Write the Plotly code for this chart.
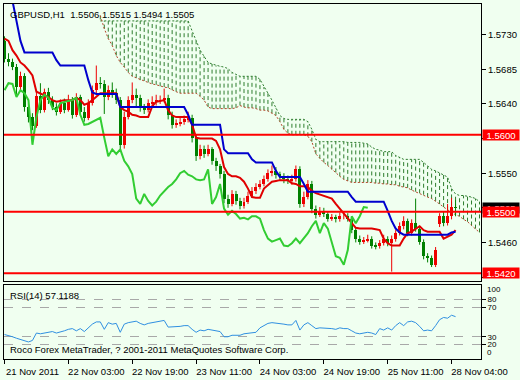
import plotly.graph_objects as go

# ---------------- data (GBPUSD H1, bars 0..113) ----------------
symbol = "GBPUSD,H1"
opens = [1.5722,1.5699,1.5694,1.5688,1.5662,1.5677,1.5636,1.5623,1.5612,1.5650,
         1.5632,1.5656,1.5645,1.5636,1.5630,1.5641,1.5632,1.5645,1.5626,1.5649,
         1.5630,1.5622,1.5641,1.5658,1.5667,1.5666,1.5649,1.5658,1.5654,1.5645,
         1.5587,1.5623,1.5645,1.5652,1.5648,1.5635,1.5632,1.5641,1.5643,1.5644,
         1.5645,1.5648,1.5626,1.5613,1.5614,1.5617,1.5620,1.5622,1.5596,1.5572,
         1.5581,1.5575,1.5581,1.5566,1.5559,1.5549,1.5517,1.5510,1.5523,1.5514,
         1.5508,1.5513,1.5521,1.5527,1.5532,1.5536,1.5542,1.5550,1.5553,1.5548,
         1.5546,1.5542,1.5541,1.5542,1.5555,1.5510,1.5519,1.5536,1.5504,1.5496,
         1.5501,1.5497,1.5491,1.5492,1.5490,1.5494,1.5494,1.5491,1.5476,1.5465,
         1.5461,1.5463,1.5465,1.5456,1.5455,1.5459,1.5465,1.5459,1.5465,1.5472,
         1.5481,1.5488,1.5472,1.5485,1.5478,1.5461,1.5442,1.5440,1.5431,1.5484,
         1.5494,1.5485,1.5494,1.5506]
highs = [1.5728,1.5706,1.5699,1.5692,1.5682,1.5680,1.5641,1.5628,1.5656,1.5667,
         1.5660,1.5661,1.5650,1.5641,1.5646,1.5647,1.5652,1.5649,1.5654,1.5652,
         1.5636,1.5646,1.5664,1.5690,1.5675,1.5671,1.5664,1.5668,1.5660,1.5649,
         1.5630,1.5650,1.5668,1.5660,1.5652,1.5640,1.5646,1.5650,1.5652,1.5651,
         1.5660,1.5652,1.5630,1.5620,1.5622,1.5625,1.5630,1.5626,1.5600,1.5587,
         1.5586,1.5587,1.5584,1.5570,1.5562,1.5553,1.5522,1.5528,1.5527,1.5518,
         1.5518,1.5526,1.5532,1.5537,1.5541,1.5547,1.5555,1.5560,1.5558,1.5552,
         1.5550,1.5547,1.5548,1.5560,1.5559,1.5526,1.5541,1.5540,1.5508,1.5506,
         1.5505,1.5500,1.5497,1.5496,1.5499,1.5499,1.5498,1.5494,1.5480,1.5469,
         1.5467,1.5470,1.5468,1.5460,1.5463,1.5470,1.5468,1.5469,1.5476,1.5486,
         1.5494,1.5491,1.5490,1.5517,1.5481,1.5464,1.5446,1.5443,1.5454,1.5498,
         1.5500,1.5510,1.5518,1.5515]
lows = [1.5694,1.5689,1.5684,1.5652,1.5658,1.5630,1.5616,1.5606,1.5609,1.5628,
        1.5629,1.5640,1.5632,1.5625,1.5627,1.5628,1.5630,1.5621,1.5623,1.5625,
        1.5617,1.5619,1.5638,1.5654,1.5660,1.5627,1.5645,1.5648,1.5640,1.5580,
        1.5582,1.5620,1.5641,1.5636,1.5630,1.5627,1.5629,1.5637,1.5638,1.5640,
        1.5642,1.5620,1.5608,1.5609,1.5611,1.5613,1.5616,1.5590,1.5566,1.5568,
        1.5570,1.5572,1.5561,1.5553,1.5543,1.5511,1.5505,1.5507,1.5509,1.5503,
        1.5504,1.5510,1.5518,1.5523,1.5529,1.5533,1.5539,1.5546,1.5543,1.5541,
        1.5537,1.5536,1.5535,1.5539,1.5505,1.5506,1.5516,1.5498,1.5491,1.5493,
        1.5493,1.5487,1.5488,1.5486,1.5487,1.5490,1.5487,1.5472,1.5460,1.5457,
        1.5458,1.5460,1.5452,1.5451,1.5452,1.5456,1.5455,1.5422,1.5461,1.5469,
        1.5477,1.5468,1.5469,1.5474,1.5457,1.5438,1.5434,1.5428,1.5428,1.5480,
        1.5481,1.5482,1.5490,1.5494]
closes = [1.5699,1.5694,1.5688,1.5662,1.5677,1.5636,1.5623,1.5612,1.5650,1.5632,
          1.5656,1.5645,1.5636,1.5630,1.5641,1.5632,1.5645,1.5626,1.5649,1.5630,
          1.5622,1.5641,1.5658,1.5667,1.5666,1.5649,1.5658,1.5654,1.5645,1.5587,
          1.5623,1.5645,1.5652,1.5648,1.5635,1.5632,1.5641,1.5643,1.5644,1.5645,
          1.5648,1.5626,1.5613,1.5614,1.5617,1.5620,1.5622,1.5596,1.5572,1.5581,
          1.5575,1.5581,1.5566,1.5559,1.5549,1.5517,1.5510,1.5523,1.5514,1.5508,
          1.5513,1.5521,1.5527,1.5532,1.5536,1.5542,1.5550,1.5553,1.5548,1.5546,
          1.5542,1.5541,1.5542,1.5555,1.5510,1.5519,1.5536,1.5504,1.5496,1.5501,
          1.5497,1.5491,1.5492,1.5490,1.5494,1.5494,1.5491,1.5476,1.5465,1.5461,
          1.5463,1.5465,1.5456,1.5455,1.5459,1.5465,1.5459,1.5465,1.5472,1.5481,
          1.5488,1.5472,1.5485,1.5478,1.5461,1.5442,1.5440,1.5431,1.5450,1.5494,
          1.5485,1.5494,1.5506,1.5505]

tenkan = [1.5725,1.5722,1.5710,1.5703,1.5694,1.5690,1.5684,1.5677,1.5656,1.5654,
          1.5652,1.5649,1.5645,1.5643,1.5644,1.5645,1.5645,1.5645,1.5648,1.5645,
          1.5639,1.5641,1.5645,1.5649,1.5654,1.5654,1.5654,1.5654,1.5654,1.5636,
          1.5632,1.5630,1.5626,1.5625,1.5623,1.5623,1.5623,1.5637,1.5643,1.5644,
          1.5645,1.5632,1.5625,1.5623,1.5623,1.5623,1.5623,1.5613,1.5596,1.5595,
          1.5595,1.5595,1.5595,1.5592,1.5581,1.5558,1.5549,1.5546,1.5546,1.5544,
          1.5539,1.5530,1.5519,1.5518,1.5518,1.5530,1.5535,1.5539,1.5540,1.5541,
          1.5541,1.5541,1.5537,1.5536,1.5533,1.5533,1.5532,1.5527,1.5524,1.5522,
          1.5521,1.5519,1.5517,1.5510,1.5504,1.5497,1.5491,1.5485,1.5479,1.5478,
          1.5478,1.5478,1.5478,1.5477,1.5476,1.5465,1.5459,1.5456,1.5456,1.5456,
          1.5465,1.5472,1.5474,1.5478,1.5481,1.5476,1.5474,1.5474,1.5474,1.5474,
          1.5465,1.5467,1.5470,1.5476]
kijun = [1.5787,1.5780,1.5774,1.5748,1.5722,1.5707,1.5707,1.5707,1.5707,1.5707,
         1.5707,1.5707,1.5707,1.5697,1.5690,1.5690,1.5690,1.5690,1.5690,1.5690,
         1.5690,1.5671,1.5655,1.5653,1.5653,1.5653,1.5653,1.5653,1.5653,1.5636,
         1.5636,1.5636,1.5636,1.5636,1.5636,1.5636,1.5636,1.5636,1.5636,1.5636,
         1.5636,1.5636,1.5636,1.5636,1.5636,1.5636,1.5626,1.5613,1.5613,1.5613,
         1.5613,1.5613,1.5613,1.5613,1.5613,1.5581,1.5576,1.5576,1.5576,1.5576,
         1.5576,1.5576,1.5568,1.5564,1.5564,1.5564,1.5564,1.5564,1.5553,1.5545,
         1.5545,1.5545,1.5545,1.5545,1.5545,1.5536,1.5526,1.5526,1.5526,1.5526,
         1.5526,1.5526,1.5526,1.5526,1.5526,1.5526,1.5526,1.5519,1.5513,1.5513,
         1.5513,1.5513,1.5513,1.5513,1.5513,1.5513,1.5501,1.5488,1.5478,1.5473,
         1.5470,1.5470,1.5470,1.5470,1.5470,1.5470,1.5470,1.5470,1.5470,1.5470,
         1.5470,1.5470,1.5473,1.5474]

cloud_first_bar = 24
span_a = [1.5755,1.5738,1.5725,1.5716,1.5703,1.5694,1.5688,1.5681,1.5676,1.5674,
          1.5671,1.5670,1.5668,1.5666,1.5665,1.5663,1.5662,1.5661,1.5658,1.5656,
          1.5654,1.5654,1.5654,1.5654,1.5654,1.5650,1.5645,1.5636,1.5634,1.5634,
          1.5634,1.5634,1.5634,1.5634,1.5635,1.5638,1.5636,1.5635,1.5635,1.5634,
          1.5632,1.5632,1.5631,1.5628,1.5625,1.5617,1.5607,1.5602,1.5600,1.5600,
          1.5600,1.5600,1.5598,1.5591,1.5575,1.5569,1.5564,1.5560,1.5555,1.5551,
          1.5546,1.5542,1.5540,1.5538,1.5538,1.5538,1.5538,1.5538,1.5538,1.5537,
          1.5537,1.5536,1.5536,1.5535,1.5535,1.5533,1.5532,1.5531,1.5528,1.5526,
          1.5524,1.5522,1.5519,1.5517,1.5514,1.5510,1.5506,1.5502,1.5499,1.5496,
          1.5494,1.5490,1.5487,1.5482,1.5478,1.5473]
span_b = [1.5748,1.5748,1.5748,1.5748,1.5748,1.5748,1.5748,1.5748,1.5748,1.5748,
          1.5748,1.5748,1.5748,1.5748,1.5748,1.5748,1.5748,1.5748,1.5748,1.5748,
          1.5748,1.5748,1.5748,1.5735,1.5722,1.5710,1.5702,1.5694,1.5692,1.5690,
          1.5689,1.5688,1.5686,1.5681,1.5679,1.5676,1.5676,1.5676,1.5676,1.5676,
          1.5672,1.5662,1.5654,1.5645,1.5635,1.5625,1.5621,1.5620,1.5620,1.5620,
          1.5620,1.5620,1.5617,1.5607,1.5594,1.5591,1.5591,1.5591,1.5591,1.5591,
          1.5591,1.5591,1.5590,1.5590,1.5590,1.5590,1.5589,1.5588,1.5584,1.5581,
          1.5580,1.5578,1.5578,1.5578,1.5573,1.5571,1.5568,1.5568,1.5568,1.5568,
          1.5568,1.5564,1.5559,1.5555,1.5553,1.5550,1.5548,1.5545,1.5530,1.5523,
          1.5521,1.5521,1.5520,1.5519,1.5517,1.5513]
chikou_shift = 22

rsi = [33,32,30,28,26,25,23,25,35,34,
       35,36,37,35,36,38,40,41,38,41,
       37,42,47,50,50,40,49,47,48,36,
       47,49,50,51,48,46,48,49,49,50,
       52,43,43,43,44,45,45,40,36,39,
       38,40,39,38,37,30,30,32,32,32,
       34,35,36,36,42,45,48,49,48,47,
       47,46,46,52,39,46,49,45,41,42,
       42,41,41,40,42,41,41,38,35,34,
       35,36,35,33,41,39,42,39,45,49,
       45,50,51,49,44,38,39,38,45,53,
       56,55,59,57.1188]
rsi_period = 14
rsi_levels = [20, 30, 70, 80]

levels = [1.5600, 1.5500, 1.5420]
price_ticks = [1.5730, 1.5685, 1.5640, 1.5595, 1.5550, 1.5505, 1.5460, 1.5415]
time_tick_bars = [0, 16, 32, 48, 64, 80, 96, 112]
time_tick_labels = ["21 Nov 2011", "22 Nov 03:00", "22 Nov 19:00", "23 Nov 11:00",
                    "24 Nov 03:00", "24 Nov 19:00", "25 Nov 11:00", "28 Nov 04:00"]
copyright_text = "Roco Forex MetaTrader, ? 2001-2011 MetaQuotes Software Corp."

# ---------------- styles ----------------
BG = "#F0FFF0"
FONT = "Liberation Sans, Arial, sans-serif"
FS = 9.5
FS_RSI = 8
BULL = "#EE0000"
BEAR = "#008000"
HATCH = "#2E7D2E"
SPAN_A_COL = "#B5462A"
TENKAN_COL = "#E00000"
KIJUN_COL = "#0000CD"
CHIKOU_COL = "#32CD32"
RSI_COL = "#2F8FE0"

bars = list(range(len(closes)))
fig = go.Figure()

# Ichimoku cloud hatching
cloud_x = list(range(cloud_first_bar, cloud_first_bar + len(span_a)))
hx, hy = [], []
for xb, a, b in zip(cloud_x, span_a, span_b):
    hx += [xb, xb, None]
    hy += [a, b, None]
fig.add_trace(go.Scatter(x=hx, y=hy, mode="lines", line=dict(color=HATCH, width=1, dash="4px,3px"),
                         hoverinfo="skip", xaxis="x", yaxis="y"))
fig.add_trace(go.Scatter(x=cloud_x, y=span_b, mode="lines", line=dict(color=HATCH, width=1, dash="2px,2px"),
                         hoverinfo="skip", xaxis="x", yaxis="y"))
fig.add_trace(go.Scatter(x=cloud_x, y=span_a, mode="lines", line=dict(color=SPAN_A_COL, width=1, dash="2px,2px"),
                         hoverinfo="skip", xaxis="x", yaxis="y"))

# candles: wicks
for col, is_bear in ((BULL, False), (BEAR, True)):
    wx, wy = [], []
    for i, o, h, l, c in zip(bars, opens, highs, lows, closes):
        if (c < o) == is_bear:
            wx += [i, i, None]
            wy += [l, h, None]
    fig.add_trace(go.Scatter(x=wx, y=wy, mode="lines", line=dict(color=col, width=1),
                             hoverinfo="skip", xaxis="x", yaxis="y"))
# candles: bodies
fig.add_trace(go.Bar(x=bars, y=[c - o for o, c in zip(opens, closes)], base=opens, width=0.75,
                     marker=dict(color=[BEAR if c < o else BULL for o, c in zip(opens, closes)], line=dict(width=0)),
                     hoverinfo="skip", xaxis="x", yaxis="y"))

# Tenkan / Kijun / Chikou
fig.add_trace(go.Scatter(x=bars, y=tenkan, mode="lines", line=dict(color=TENKAN_COL, width=2),
                         hoverinfo="skip", xaxis="x", yaxis="y"))
fig.add_trace(go.Scatter(x=bars, y=kijun, mode="lines", line=dict(color=KIJUN_COL, width=2),
                         hoverinfo="skip", xaxis="x", yaxis="y"))
fig.add_trace(go.Scatter(x=bars[:len(closes) - chikou_shift], y=closes[chikou_shift:], mode="lines",
                         line=dict(color=CHIKOU_COL, width=2), hoverinfo="skip", xaxis="x", yaxis="y"))

# RSI
fig.add_trace(go.Scatter(x=bars, y=rsi, mode="lines", line=dict(color=RSI_COL, width=1),
                         hoverinfo="skip", xaxis="x2", yaxis="y2"))

# horizontal level lines
shapes = [dict(type="line", xref="paper", x0=0, x1=1, yref="y", y0=v, y1=v,
               line=dict(color="#FF0000", width=2), layer="above") for v in levels]

# price-scale labels hidden under the level / current-price boxes are left blank
covered = levels + [closes[-1]]
price_ticktext = ["" if any(abs(v - c) < 0.0007 for c in covered) else f"{v:.4f}" for v in price_ticks]

annotations = []
annotations.append(dict(xref="paper", x=0, xanchor="left", xshift=4, yref="paper", y=1, yanchor="top", yshift=-3,
                        text=f"{symbol}  {opens[-1]:.4f} {highs[-1]:.4f} {lows[-1]:.4f} {closes[-1]:.4f}",
                        showarrow=False, font=dict(family=FONT, size=FS, color="black")))
annotations.append(dict(xref="paper", x=0, xanchor="left", xshift=4, yref="y2 domain", y=1, yanchor="top", yshift=-3,
                        text=f"RSI({rsi_period}) {rsi[-1]:.4f}", showarrow=False,
                        font=dict(family=FONT, size=FS, color="black")))
annotations.append(dict(xref="paper", x=0, xanchor="left", xshift=4, yref="y2 domain", y=0, yanchor="bottom", yshift=2,
                        text=copyright_text, showarrow=False, font=dict(family=FONT, size=FS, color="black")))
annotations.append(dict(xref="paper", x=1, xanchor="left", xshift=5, yref="y2", y=100, yanchor="top", yshift=1,
                        text="100", showarrow=False, borderpad=0, font=dict(family=FONT, size=FS_RSI, color="black")))
annotations.append(dict(xref="paper", x=1, xanchor="left", xshift=5, yref="y2", y=0, yanchor="bottom", yshift=1,
                        text="0", showarrow=False, borderpad=0, font=dict(family=FONT, size=FS_RSI, color="black")))
# current price label (black) then level labels (red)
annotations.append(dict(xref="paper", x=1, xanchor="left", xshift=1, yref="y", y=closes[-1], yanchor="middle",
                        text=f"{closes[-1]:.4f}", showarrow=False, bgcolor="#000000", width=36, height=10,
                        borderpad=0, font=dict(family=FONT, size=FS, color="white")))
for v in levels:
    annotations.append(dict(xref="paper", x=1, xanchor="left", xshift=1, yref="y", y=v, yanchor="middle",
                            text=f"{v:.4f}", showarrow=False, bgcolor="#FF0000", width=36, height=10,
                            borderpad=0, font=dict(family=FONT, size=FS, color="white")))

H_TOTAL, T, B = 380, 3, 18
plot_h = H_TOTAL - T - B
main_bottom_px, rsi_top_px = 283, 287
main_dom = [(H_TOTAL - B - main_bottom_px) / plot_h, 1]
rsi_dom = [0, (H_TOTAL - B - rsi_top_px) / plot_h]
xr = [-0.125, 119.375]

fig.update_layout(
    width=520, height=380,
    margin=dict(l=3, r=39, t=T, b=B),
    paper_bgcolor=BG, plot_bgcolor=BG,
    showlegend=False, bargap=0,
    font=dict(family=FONT, size=FS, color="black"),
    shapes=shapes, annotations=annotations,
    xaxis=dict(domain=[0, 1], anchor="y", range=xr, showticklabels=False, showgrid=False, zeroline=False,
               showline=True, mirror=True, linecolor="black", linewidth=1, ticks=""),
    xaxis2=dict(domain=[0, 1], anchor="y2", range=xr, matches="x", tickmode="array",
                tickvals=time_tick_bars, ticktext=time_tick_labels, ticks="outside", ticklen=4,
                tickcolor="black", ticklabelshift=28, showgrid=False, zeroline=False,
                showline=True, mirror=True, linecolor="black", linewidth=1,
                tickfont=dict(family=FONT, size=FS, color="black")),
    yaxis=dict(domain=main_dom, anchor="x", range=[1.5410, 1.5770], side="right", tickmode="array",
               tickvals=price_ticks, ticktext=price_ticktext, ticks="outside", ticklen=4,
               tickcolor="black", showgrid=False, zeroline=False, showline=True, mirror=True,
               linecolor="black", linewidth=1, tickfont=dict(family=FONT, size=FS, color="black")),
    yaxis2=dict(domain=rsi_dom, anchor="x2", range=[0, 100], side="right", tickmode="array",
                tickvals=rsi_levels, ticktext=[str(v) for v in rsi_levels], ticks="outside", ticklen=4,
                tickcolor="black", showgrid=True, gridcolor="#A8A8A8", griddash="dash", gridwidth=1,
                zeroline=False, showline=True, mirror=True, linecolor="black", linewidth=1,
                tickfont=dict(family=FONT, size=FS_RSI, color="black")),
)

fig.write_html("out.html")
